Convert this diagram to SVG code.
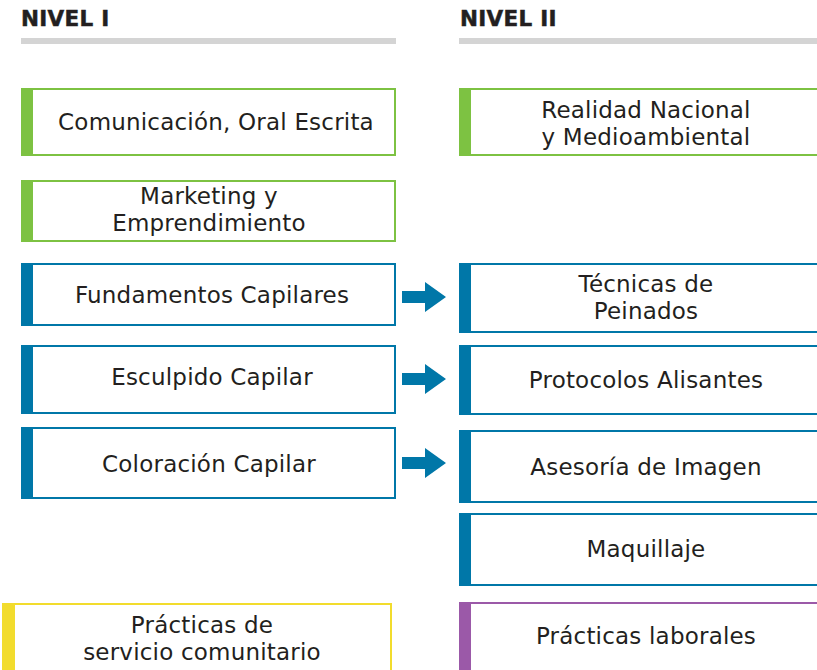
<svg xmlns="http://www.w3.org/2000/svg" width="817" height="670" viewBox="0 0 817 670">
<style>
.hd{font-family:"DejaVu Sans","Liberation Sans",sans-serif;font-weight:bold;font-size:21.5px;fill:#231f20;letter-spacing:0.3px;stroke:#231f20;stroke-width:0.5}
.t{font-family:"DejaVu Sans","Liberation Sans",sans-serif;font-size:23px;fill:#231f20;text-anchor:middle;letter-spacing:0.2px}
.bx{fill:#fff;stroke-width:2}
.g .bx{stroke:#7dc242}.g .bar{fill:#7dc242}
.b .bx{stroke:#0077a8}.b .bar{fill:#0077a8}
.y .bx{stroke:#f2dc2d}.y .bar{fill:#f2dc2d}
.p .bx{stroke:#9b59a8}.p .bar{fill:#9b59a8}
.arr{fill:#0077a8}
</style>
<rect width="817" height="670" fill="#fff"/>
<g id="header1"><text class="hd" x="21" y="26">NIVEL I</text><rect x="21" y="38" width="375" height="6" fill="#d4d4d4"/></g>
<g id="header2"><text class="hd" x="460" y="26">NIVEL II</text><rect x="459" y="38" width="358" height="6" fill="#d4d4d4"/></g>

<g id="n-comunicacion" class="g"><rect class="bx" x="22" y="89" width="373" height="66"/><rect class="bar" x="21" y="88" width="12" height="68"/><text class="t" x="216" y="130">Comunicación, Oral Escrita</text></g>
<g id="n-marketing" class="g"><rect class="bx" x="22" y="181" width="373" height="60"/><rect class="bar" x="21" y="180" width="12" height="62"/><text class="t" x="209" y="204">Marketing y</text><text class="t" x="209" y="231">Emprendimiento</text></g>
<g id="n-fundamentos" class="b"><rect class="bx" x="22" y="264" width="373" height="61"/><rect class="bar" x="21" y="263" width="12" height="63"/><text class="t" x="212" y="303">Fundamentos Capilares</text></g>
<g id="n-esculpido" class="b"><rect class="bx" x="22" y="346" width="373" height="67"/><rect class="bar" x="21" y="345" width="12" height="69"/><text class="t" x="212" y="385">Esculpido Capilar</text></g>
<g id="n-coloracion" class="b"><rect class="bx" x="22" y="428" width="373" height="70"/><rect class="bar" x="21" y="427" width="12" height="72"/><text class="t" x="209" y="472">Coloración Capilar</text></g>
<g id="n-servicio" class="y"><rect class="bx" x="3" y="604" width="388" height="70"/><rect class="bar" x="2" y="603" width="13" height="72"/><text class="t" x="202" y="633">Prácticas de</text><text class="t" x="202" y="660">servicio comunitario</text></g>

<g id="n-realidad" class="g"><rect class="bx" x="460" y="89" width="370" height="66"/><rect class="bar" x="459" y="88" width="12" height="68"/><text class="t" x="646" y="118">Realidad Nacional</text><text class="t" x="646" y="145">y Medioambiental</text></g>
<g id="n-tecnicas" class="b"><rect class="bx" x="460" y="264" width="370" height="68"/><rect class="bar" x="459" y="263" width="12" height="70"/><text class="t" x="646" y="292">Técnicas de</text><text class="t" x="646" y="319">Peinados</text></g>
<g id="n-protocolos" class="b"><rect class="bx" x="460" y="346" width="370" height="68"/><rect class="bar" x="459" y="345" width="12" height="70"/><text class="t" x="646" y="388">Protocolos Alisantes</text></g>
<g id="n-asesoria" class="b"><rect class="bx" x="460" y="431" width="370" height="71"/><rect class="bar" x="459" y="430" width="12" height="73"/><text class="t" x="646" y="475">Asesoría de Imagen</text></g>
<g id="n-maquillaje" class="b"><rect class="bx" x="460" y="514" width="370" height="71"/><rect class="bar" x="459" y="513" width="12" height="73"/><text class="t" x="646" y="557">Maquillaje</text></g>
<g id="n-laborales" class="p"><rect class="bx" x="460" y="603" width="370" height="72"/><rect class="bar" x="459" y="602" width="12" height="74"/><text class="t" x="646" y="644">Prácticas laborales</text></g>

<g id="connectors">
<polygon class="arr" points="402,291 425,291 425,282 446,297 425,312 425,303 402,303"/>
<polygon class="arr" points="402,373 425,373 425,364 446,379 425,394 425,385 402,385"/>
<polygon class="arr" points="402,457 425,457 425,448 446,463 425,478 425,469 402,469"/>
</g>
</svg>
